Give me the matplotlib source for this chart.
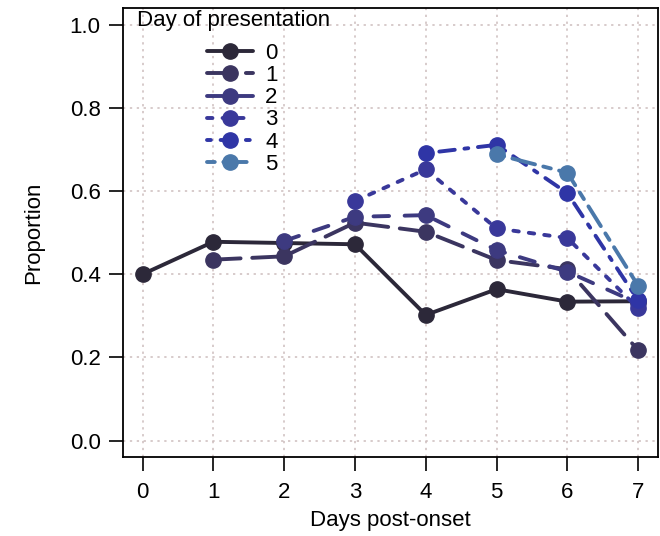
import matplotlib
matplotlib.use("Agg")
import matplotlib.pyplot as plt

plt.rcParams['font.family'] = ['Liberation Sans', 'DejaVu Sans']

# --------- DATA ---------
days = [0, 1, 2, 3, 4, 5, 6, 7]
labels = ["0", "1", "2", "3", "4", "5"]

pres0 = [0.400, 0.478, 0.475, 0.472, 0.302, 0.364, 0.334, 0.335]
pres1 = [0.435, 0.443, 0.524, 0.502, 0.434, 0.412, 0.217]
pres2 = [0.480, 0.538, 0.542, 0.458, 0.406, 0.330]
pres3 = [0.576, 0.652, 0.510, 0.487, 0.318]
pres4 = [0.691, 0.711, 0.595, 0.337]
pres5 = [0.688, 0.644, 0.372]

series = [pres0, pres1, pres2, pres3, pres4, pres5]
colors = ['#2c2839', '#3b3560', '#3d3a80', '#39389a', '#2f35a6', '#4a78aa']
dashes = [None, (7, 3), (4, 4), (1.4, 2.6), (1, 2.5, 4, 2.5), (2, 2.2, 6, 2.2)]

# --------- PLOT ---------
fig = plt.figure(figsize=(6.6, 5.36), dpi=100)
ax = fig.add_axes([0.186, 0.147, 0.811, 0.838])

for i, vals in enumerate(series):
    x = days[i:]
    line, = ax.plot(x, vals, color=colors[i], lw=2.8, marker='o', markersize=11,
                    solid_capstyle='round', dash_capstyle='round', label=labels[i],
                    zorder=3 + i * 0.1)
    if dashes[i] is not None:
        line.set_dashes(dashes[i])

ax.set_xlim(-0.28, 7.28)
ax.set_ylim(-0.04, 1.04)
ax.set_xticks(days)
ax.set_yticks([0.0, 0.2, 0.4, 0.6, 0.8, 1.0])
ax.set_yticklabels(["0.0", "0.2", "0.4", "0.6", "0.8", "1.0"])
ax.grid(True, color='#cdbdbd', linestyle=(0, (1.5, 3)), lw=1.1, zorder=0)
ax.tick_params(direction='out', length=10, width=1.2, labelsize=16)
ax.tick_params(axis='x', pad=8)
ax.tick_params(axis='y', pad=6)
for s in ax.spines.values():
    s.set_linewidth(1.3)
ax.set_xlabel("Days post-onset", fontsize=16, labelpad=5)
ax.set_ylabel("Proportion", fontsize=16, labelpad=18)

ax.text(0.026, 0.995, "Day of presentation", transform=ax.transAxes,
        fontsize=16, va='top', ha='left')
ax.legend(loc='upper left', bbox_to_anchor=(0.157, 0.922), frameon=False,
          fontsize=16, handlelength=2.07, labelspacing=0.05, handletextpad=0.55,
          borderpad=0, borderaxespad=0)

plt.savefig("out.png", dpi=100)
